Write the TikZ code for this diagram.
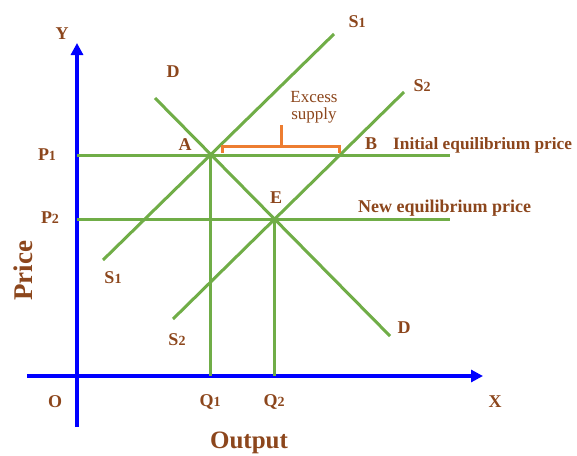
\documentclass[tikz,border=0pt]{standalone}
\usepackage{fontspec}
\setmainfont{Liberation Serif}
\usepackage{tikz}
\usetikzlibrary{arrows.meta}
\definecolor{lgreen}{RGB}{112,173,71}
\definecolor{lbrown}{RGB}{140,70,28}
\definecolor{lorange}{RGB}{237,125,49}
\newcommand{\osd}[1]{{\fontsize{14}{14}\selectfont #1}}
\tikzset{
    greenline/.style={
        line width=3pt,
        lgreen
    },
    % axes in blue with a triangle tip
    bluearrow/.style={
        line width=4pt,
        blue,
        -{Triangle[length=12pt, width=12pt]}
    },
    bracketline/.style={
        line width=3pt,
        lorange
    },
    lbl/.style={
        inner sep=0pt,
        anchor=base,
        text=lbrown,
        font=\bfseries\fontsize{18}{18}\selectfont
    }
}

\begin{document}
\begin{tikzpicture}[x=1pt,y=-1pt]
    \useasboundingbox (0,0) rectangle (577,455);
    \path 
    (77,376) coordinate (o) (77,43) coordinate (ytop) (77,427) coordinate (ybot)
    (27,376) coordinate (xleft) (483,376) coordinate (xright)
    (155,98) coordinate (d1) (390,336) coordinate (d2)
    (103,260) coordinate (s1a) (334,34) coordinate (s1b)
    (173,319) coordinate (s2a) (404,92) coordinate (s2b)
    (210,155) coordinate (A) (274,219) coordinate (E) (340,155) coordinate (B)
    (77,155) coordinate (p1) (450,155) coordinate (p1e)
    (77,219) coordinate (p2) (450,219) coordinate (p2e)
    (210,376) coordinate (q1) (274,376) coordinate (q2);
    \draw[bluearrow] (ybot) to (ytop);
    \draw[bluearrow] (xleft) to (xright);
    \draw[greenline] (p1) to (p1e);
    \draw[greenline] (p2) to (p2e);
    \draw[greenline] (A) to (q1);
    \draw[greenline] (E) to (q2);
    \draw[greenline] (d1) to (d2);
    \draw[greenline] (s1a) to (s1b);
    \draw[greenline] (s2a) to (s2b);
    \draw[bracketline] (222,153) -- (222,146) -- (339,146) -- (339,153);
    \draw[bracketline] (281,146) -- (281,125);

    \node[lbl] (ylbl) at (62,39) {Y};
    \node[lbl] (xlbl) at (495,407) {X};
    \node[lbl] (olbl) at (55,407) {O};
    \node[lbl] (dtop) at (173,77) {D};
    \node[lbl] (dbot) at (404,333) {D};
    \node[lbl] (albl) at (185,150) {A};
    \node[lbl] (elbl) at (276,203) {E};
    \node[lbl] (blbl) at (371,149) {B};
    \node[lbl] (p1lbl) at (47,160) {P\osd{1}};
    \node[lbl] (p2lbl) at (50,223) {P\osd{2}};
    \node[lbl] (q1lbl) at (210,406) {Q\osd{1}};
    \node[lbl] (q2lbl) at (274,406) {Q\osd{2}};
    \node[lbl] (s1top) at (357,27) {S\osd{1}};
    \node[lbl] (s2top) at (422,91) {S\osd{2}};
    \node[lbl] (s1bot) at (113,283) {S\osd{1}};
    \node[lbl] (s2bot) at (177,345) {S\osd{2}};
    \node[lbl,anchor=base west,font=\bfseries\fontsize{17.3}{17.3}\selectfont] (initlbl) at (393,149) {Initial equilibrium price};
    \node[lbl,anchor=base west] (newlbl) at (358,212) {New equilibrium price};
    \node[lbl,font=\fontsize{17}{17}\selectfont,align=center,anchor=center] (excess) at (314,107) {Excess\\supply};
    \node[lbl,font=\bfseries\fontsize{25}{25}\selectfont] (outlbl) at (249,448) {Output};
    \node[lbl,font=\bfseries\fontsize{27}{27}\selectfont,rotate=90] (pricelbl) at (32,271) {Price};
\end{tikzpicture}
\end{document}
